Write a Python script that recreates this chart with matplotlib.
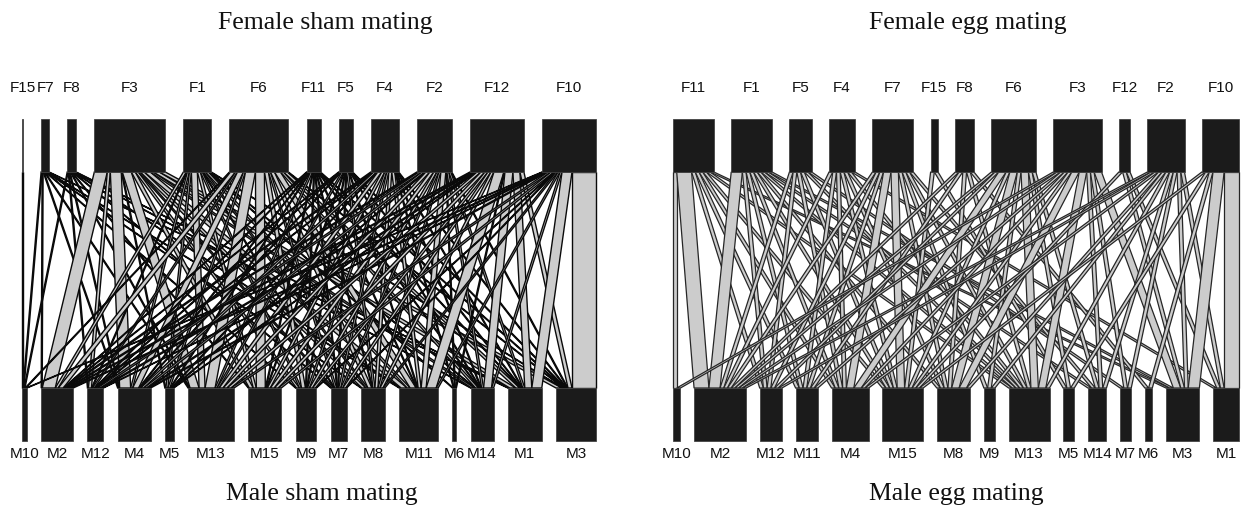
import numpy as np
import matplotlib
matplotlib.use("Agg")
import matplotlib.pyplot as plt
from matplotlib.patches import Polygon, Rectangle

# ---------------- data ----------------
sham_females = ["F15", "F7", "F8", "F3", "F1", "F6", "F11", "F5", "F4", "F2", "F12", "F10"]
sham_males = ["M10", "M2", "M12", "M4", "M5", "M13", "M15", "M9", "M7", "M8", "M11", "M6", "M14", "M1", "M3"]
# rows = females (top order), columns = males (bottom order)
sham_F15 = [1, 0, 0, 0, 0, 0, 0, 0, 0, 0, 0, 0, 0, 0, 0]
sham_F7 = [1, 1, 0, 1, 0, 1, 0, 1, 0, 1, 1, 0, 0, 1, 0]
sham_F8 = [1, 0, 1, 1, 0, 1, 1, 0, 1, 0, 1, 0, 1, 1, 0]
sham_F3 = [0, 13, 3, 11, 1, 9, 4, 3, 2, 4, 6, 0, 3, 6, 6]
sham_F1 = [0, 3, 1, 2, 2, 6, 3, 2, 1, 2, 3, 1, 1, 0, 1]
sham_F6 = [1, 5, 2, 6, 2, 10, 9, 4, 2, 4, 6, 0, 3, 4, 1]
sham_F11 = [0, 1, 1, 1, 1, 2, 1, 1, 1, 1, 1, 0, 1, 1, 1]
sham_F5 = [0, 1, 1, 1, 0, 2, 1, 1, 1, 2, 1, 0, 1, 1, 1]
sham_F4 = [0, 2, 1, 3, 1, 4, 3, 2, 2, 3, 3, 1, 1, 1, 1]
sham_F2 = [0, 2, 3, 3, 1, 4, 4, 3, 2, 2, 5, 1, 2, 2, 1]
sham_F12 = [0, 2, 2, 2, 1, 4, 4, 3, 3, 3, 10, 1, 8, 7, 4]
sham_F10 = [1, 2, 1, 2, 0, 3, 3, 1, 1, 2, 2, 0, 2, 10, 24]
sham_matrix = [sham_F15, sham_F7, sham_F8, sham_F3, sham_F1, sham_F6,
               sham_F11, sham_F5, sham_F4, sham_F2, sham_F12, sham_F10]

egg_females = ["F11", "F1", "F5", "F4", "F7", "F15", "F8", "F6", "F3", "F12", "F2", "F10"]
egg_males = ["M10", "M2", "M12", "M11", "M4", "M15", "M8", "M9", "M13", "M5", "M14", "M7", "M6", "M3", "M1"]
egg_F11 = [1, 4, 1, 1, 1, 1, 0, 0, 1, 0, 0, 0, 0, 1, 0]
egg_F1 = [0, 3, 1, 1, 1, 1, 1, 0, 1, 0, 1, 0, 0, 1, 0]
egg_F5 = [0, 1, 1, 0, 1, 1, 0, 0, 1, 0, 0, 1, 0, 0, 0]
egg_F4 = [0, 1, 0, 1, 1, 1, 1, 0, 1, 0, 0, 0, 0, 0, 1]
egg_F7 = [0, 1, 1, 1, 2, 2, 1, 1, 1, 0, 1, 0, 0, 0, 0]
egg_F15 = [0, 0, 0, 0, 0, 1, 0, 0, 0, 1, 0, 0, 0, 0, 0]
egg_F8 = [0, 1, 0, 1, 0, 0, 1, 0, 1, 0, 0, 0, 1, 0, 0]
egg_F6 = [0, 1, 1, 0, 2, 1, 2, 1, 2, 1, 1, 0, 0, 0, 0]
egg_F3 = [1, 1, 0, 1, 1, 1, 2, 0, 2, 0, 1, 1, 0, 2, 0]
egg_F12 = [0, 0, 0, 0, 0, 1, 0, 0, 0, 0, 0, 0, 0, 1, 1]
egg_F2 = [0, 1, 1, 0, 1, 0, 1, 1, 1, 0, 1, 1, 0, 1, 1]
egg_F10 = [0, 0, 0, 0, 0, 1, 0, 0, 0, 1, 0, 0, 1, 3, 4]
egg_matrix = [egg_F11, egg_F1, egg_F5, egg_F4, egg_F7, egg_F15,
              egg_F8, egg_F6, egg_F3, egg_F12, egg_F2, egg_F10]

# ---------------- drawing ----------------
W, H = 1248, 514
fig = plt.figure(figsize=(W / 100, H / 100), dpi=100)
ax = fig.add_axes([0, 0, 1, 1])
ax.set_xlim(0, W)
ax.set_ylim(H, 0)
ax.axis("off")

TOP_Y0, TOP_Y1 = 119, 172
BOT_Y0, BOT_Y1 = 388, 441
BOX_COLOR = "#1b1b1b"
LINK_FILL = "#cccccc"
SERIF = ["Liberation Serif", "DejaVu Serif"]
SANS = ["Liberation Sans", "DejaVu Sans"]


def draw_panel(x0, x1, females, males, matrix, t_top, t_bot, tx_top, tx_bot,
               frac, link_lw, link_col):
    m = np.array(matrix, dtype=float)
    n_tot = m.sum()
    u = frac * (x1 - x0) / n_tot
    rs, cs = m.sum(axis=1), m.sum(axis=0)

    def lefts(tot):
        gap = ((x1 - x0) - tot.sum() * u) / (len(tot) - 1)
        return x0 + np.concatenate([[0], np.cumsum(tot[:-1] * u + gap)])

    tl, bl = lefts(rs), lefts(cs)
    nf, nm = m.shape
    for i in range(nf):
        for j in range(nm):
            w = m[i, j]
            if w <= 0:
                continue
            xa = tl[i] + m[i, :j].sum() * u
            xb = xa + w * u
            xc = bl[j] + m[:i, j].sum() * u
            xd = xc + w * u
            ax.add_patch(Polygon([(xa, TOP_Y1), (xb, TOP_Y1), (xd, BOT_Y0), (xc, BOT_Y0)],
                                 closed=True, facecolor=LINK_FILL, edgecolor=link_col,
                                 linewidth=link_lw, joinstyle="miter", zorder=2))
    for i in range(nf):
        ax.add_patch(Rectangle((tl[i], TOP_Y0), rs[i] * u, TOP_Y1 - TOP_Y0,
                               facecolor=BOX_COLOR, edgecolor="#444444", linewidth=0.6, zorder=3))
        ax.text(tl[i] + rs[i] * u / 2, 88, females[i], ha="center", va="center",
                fontsize=11, family=SANS, color="#111111")
    for j in range(nm):
        ax.add_patch(Rectangle((bl[j], BOT_Y0), cs[j] * u, BOT_Y1 - BOT_Y0,
                               facecolor=BOX_COLOR, edgecolor="#444444", linewidth=0.6, zorder=3))
        ax.text(bl[j] + cs[j] * u / 2, 454, males[j], ha="center", va="center",
                fontsize=11, family=SANS, color="#111111")
    ax.text(tx_top, 23, t_top, ha="center", va="center", fontsize=18.5, family=SERIF, color="#111111")
    ax.text(tx_bot, 494, t_bot, ha="center", va="center", fontsize=18.5, family=SERIF, color="#111111")


draw_panel(22, 596, sham_females, sham_males, sham_matrix,
           "Female sham mating", "Male sham mating", 325, 322,
           frac=0.653, link_lw=1.0, link_col="#0a0a0a")
draw_panel(673, 1239, egg_females, egg_males, egg_matrix,
           "Female egg mating", "Male egg mating", 968, 956,
           frac=0.663, link_lw=0.9, link_col="#262626")

fig.savefig("out.png", dpi=100)
